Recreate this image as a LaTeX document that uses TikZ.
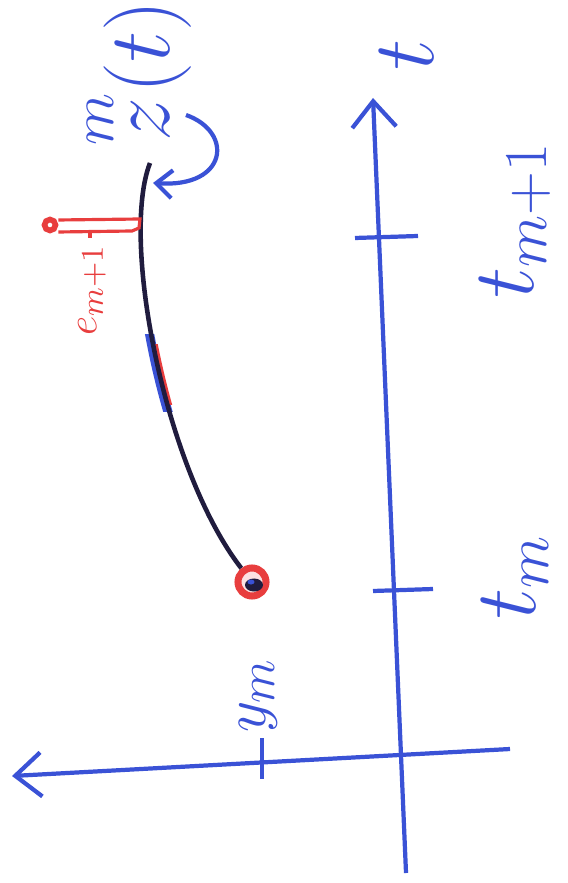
\documentclass[tikz,border=0pt]{standalone}
\usepackage{amsmath}
\usetikzlibrary{arrows.meta,calc}
\definecolor{penblue}{RGB}{58,82,214}
\definecolor{penred}{RGB}{232,62,62}
\definecolor{pendark}{RGB}{32,28,62}
\tikzset{
  axis line/.style={penblue,line width=1.2pt,-{Straight Barb[length=2.6mm,width=4.4mm]}},
  tick line/.style={penblue,line width=1.2pt},
  axis label/.style={penblue,rotate=90,inner sep=0pt,font=\fontsize{24}{28}\selectfont},
  sol curve/.style={pendark,line width=1.3pt},
  err line/.style={penred,line width=0.9pt},
  obs dot/.style={circle,draw=penred,line width=1.6pt,minimum size=1.1mm,inner sep=0pt,fill=white},
  start dot/.style={circle,draw=penred,line width=2pt,minimum size=2.8mm,inner sep=0pt,fill=penred!15},
  pointer/.style={penblue,line width=1.2pt,-{Straight Barb[length=1.6mm,width=2.8mm]}},
}

\begin{document}
\begin{tikzpicture}[x=0.01cm,y=-0.01cm]
  \useasboundingbox (0,0) rectangle (568,883);
  % axes
  \coordinate (tbot) at (406,873);
  \coordinate (ttop) at (373,98);
  \coordinate (yright) at (510,749);
  \coordinate (yleft) at (12,776);
  \draw[axis line] (tbot) -- (ttop);
  \draw[axis line] (yright) -- (yleft);
  % ticks
  \draw[tick line] (355,238) -- (418,236);
  \draw[tick line] (373,591) -- (433,589);
  \draw[tick line] (262,738) -- (262,779);
  % labels
  \node[axis label] (tlabel) at (407,55) {$t$};
  \node[axis label] (tmplabel) at (515,220) {$t_{m+1}$};
  \node[axis label] (tmlabel) at (515,577) {$t_m$};
  \node[axis label,font=\fontsize{19}{23}\selectfont] (ymlabel) at (258,695) {$y_m$};
  \node[axis label] (zlabel) at (135,73) {$\overset{m}{z}(t)$};
  \node[axis label,penred,font=\fontsize{13}{15}\selectfont] (elabel) at (92,290) {$e_{m+1}$};
  % solution curve
  \coordinate (ztop) at (150,163);
  \node[start dot] (start) at (252,582) {};
  \fill[pendark] ($(start)+(2,3)$) ellipse (0.09cm and 0.065cm);
  \fill[penblue] ($(start)+(-1,0)$) ellipse (0.035cm and 0.025cm);
  \begin{scope}
    \clip (100,335) rectangle (220,412);
    \draw[penblue,line width=2.6pt,xshift=-0.02cm] (ztop) .. controls (120,240) and (165,470) .. (start);
  \end{scope}
  \begin{scope}
    \clip (100,345) rectangle (220,405);
    \draw[penred,line width=1.6pt,xshift=0.025cm] (ztop) .. controls (120,240) and (165,470) .. (start);
  \end{scope}
  \draw[sol curve] (ztop) .. controls (120,240) and (165,470) .. (start);
  % error at t_{m+1}
  \node[obs dot] (obs) at (50,225) {};
  \coordinate (est) at (140,222);
  \draw[err line] ($(obs.east)+(0,-5)$) -- ($(est)+(0,-3)$) -- ($(est)+(-1,6)$) -- ($(est)+(-8,9)$) -- ($(obs.east)+(0,7)$);
  \draw[err line] (90,232) -- (90,238);
  % pointer to curve
  \coordinate (zfrom) at (186,115);
  \coordinate (zhit) at (153,183);
  \draw[pointer] (zfrom) .. controls (234,132) and (228,188) .. (zhit);
\end{tikzpicture}
\end{document}
